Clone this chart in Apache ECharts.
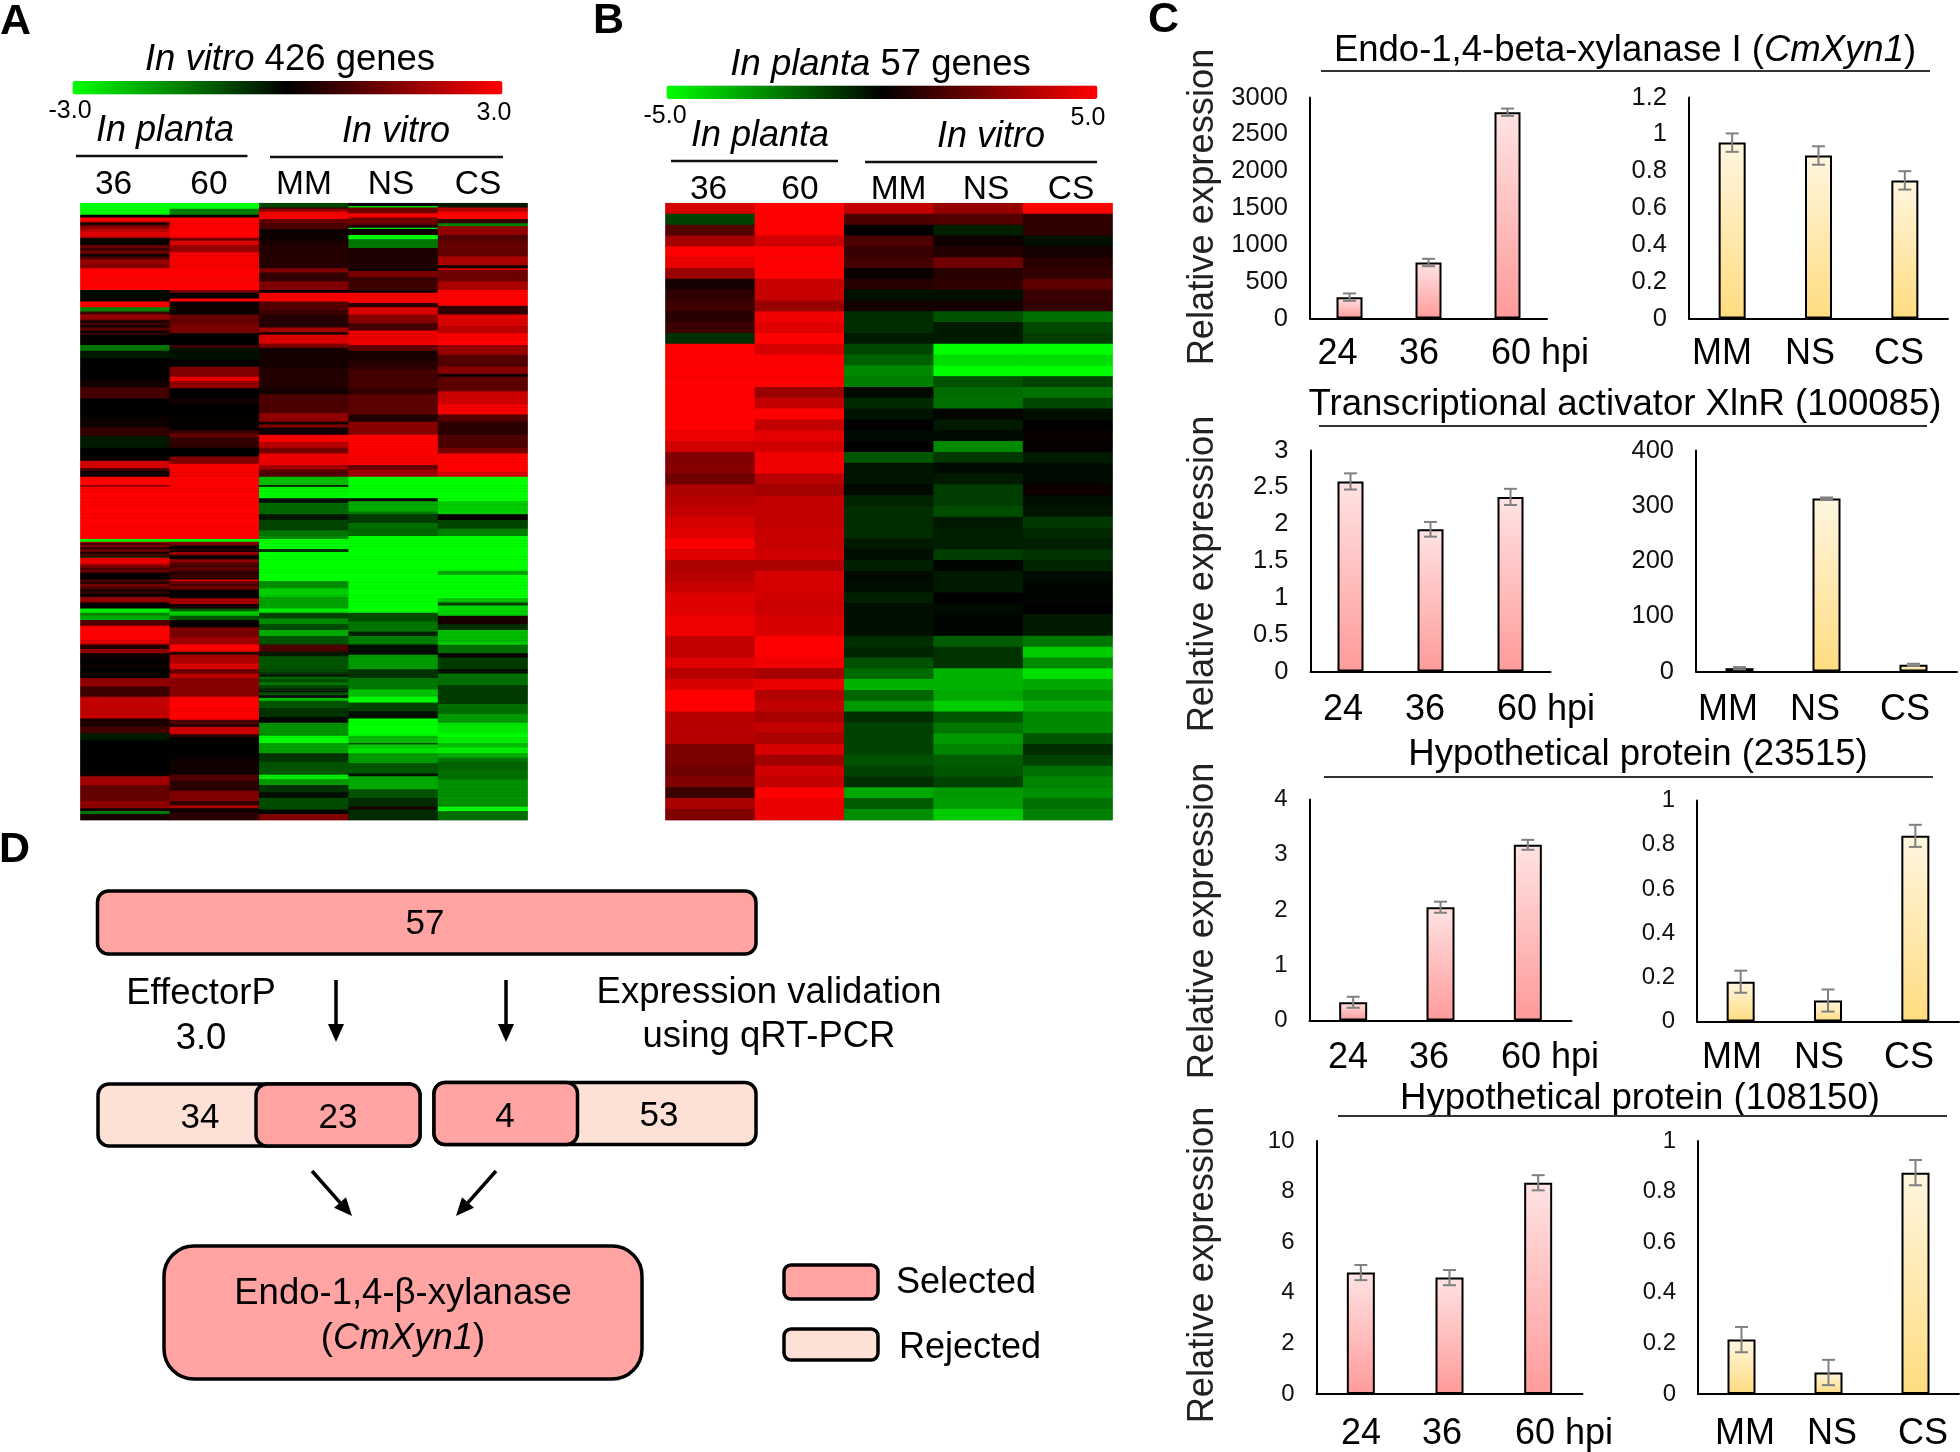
<!DOCTYPE html>
<html>
<head>
<meta charset="utf-8">
<style>html,body{margin:0;padding:0;background:#fff}#c{width:1960px;height:1452px}</style>
<script src="https://cdn.jsdelivr.net/npm/echarts@6/dist/echarts.min.js"></script>
</head>
<body>
<div id="c"></div>
<script>
// ---------- Panel A heat map: runs of [last row, log-ratio] read per column ----------
const heatColumns = ['36', '60', 'MM', 'NS', 'CS'];
const aRows = 426;
const a36 = [[8,-3],[10,0],[13,3],[14,.9],[15,.2],[16,1.2],[18,1.7],[20,2.2],[24,2.6],[29,.1],[31,1.2],[33,.7],[35,1.3],[37,.2],[39,.9],[42,1.8],[45,1.6],[60,3],[68,-.1],[72,2.9],[75,-1.6],[77,.7],[80,1.8],[81,1.4],[83,.4],[84,.9],[86,.3],[88,1.1],[90,.2],[91,.8],[98,.05],[102,-1.4],[107,-.3],[122,0],[127,.2],[135,.8],[148,0],[155,.15],[161,.6],[169,-.3],[175,0],[178,.1],[183,2.5],[185,.9],[189,.2],[195,3],[196,1.5],[232,3],[234,-3],[235,1.9],[236,.6],[238,1.5],[239,.2],[241,1.2],[242,.2],[244,.9],[245,-.5],[249,2.8],[250,2],[252,1.5],[254,.9],[255,1.6],[256,.3],[260,.05],[262,.9],[263,.2],[265,1.4],[267,.9],[268,.1],[270,.6],[272,.05],[276,1.7],[280,0],[283,-2.8],[285,-1.6],[288,-2],[292,1],[302,3],[305,2.6],[308,.4],[311,1.7],[314,.2],[319,.02],[321,.2],[328,0],[334,1.7],[341,.7],[356,2.3],[358,.3],[362,.4],[366,.8],[371,-.3],[392,0],[396,.1],[402,1.9],[413,1.2],[418,1.7],[420,.3],[422,-1.4],[426,.3]];
const a60 = [[4,-3],[8,-1.5],[10,0],[24,3],[26,1.4],[29,2.6],[34,1.8],[45,2.9],[60,3],[62,1.5],[66,0],[68,3],[75,.15],[77,.1],[83,1.2],[90,1.4],[98,0],[100,.8],[108,-.2],[113,0],[120,1.5],[123,2.8],[128,1.7],[135,0],[139,.2],[148,0],[157,.05],[159,.6],[162,1.2],[169,.6],[175,0],[180,1.5],[190,2.9],[232,3],[234,-3],[236,1.6],[237,.8],[239,.1],[240,.6],[241,.2],[243,1.8],[244,.6],[246,0],[248,1.7],[250,1.1],[252,.8],[254,1.2],[257,.5],[259,.7],[260,.3],[261,2.6],[263,1.3],[265,.9],[267,1.4],[270,.1],[273,0],[277,1.9],[280,.3],[282,-1],[285,-2.4],[288,-1],[293,.1],[300,1.4],[305,1.9],[310,3],[312,.5],[318,2],[322,2.6],[325,1.2],[328,2.2],[341,1.6],[350,3],[357,3],[360,.9],[362,.5],[367,2.4],[369,.6],[384,.02],[395,.2],[399,1],[406,.5],[413,1.5],[416,.6],[418,2],[421,.2],[426,.5]];
const aMM = [[3,-.8],[4,.6],[6,1.7],[11,2.9],[14,1.2],[18,.9],[25,.15],[29,.3],[45,.45],[48,1.5],[54,.6],[60,1.5],[62,.1],[68,2.9],[74,1],[77,.7],[86,.45],[89,1.9],[91,.4],[97,2.6],[100,1.5],[114,.25],[128,.4],[132,.25],[145,.9],[151,1.7],[153,.2],[155,1.5],[160,.2],[165,2.9],[169,2.2],[173,1.4],[181,2.8],[184,1.9],[189,1],[195,-2.2],[196,.1],[204,-2.9],[207,-.2],[215,-1.2],[219,-.3],[226,-.8],[230,-1.4],[232,-1.6],[239,-3],[241,-.6],[261,-3],[266,-1.7],[272,-2.4],[280,-1.9],[283,-2.8],[287,-.8],[291,-1.6],[295,-.9],[299,-2],[305,-1],[310,.9],[313,-.3],[322,-1],[324,-.9],[326,-.6],[327,-.1],[329,-1.2],[331,-.9],[333,-1.4],[335,-.8],[337,-.5],[338,-.1],[340,-1],[342,-.2],[343,-2.8],[344,-1.9],[349,-1],[355,-.6],[359,-.1],[368,-1.7],[373,-3],[380,-1.9],[386,-.6],[395,-1],[398,-2.8],[402,-1.8],[407,-.6],[411,-.2],[419,-.9],[422,-.1],[426,1.5]];
const aNS = [[2,.1],[3,-2.6],[7,1.3],[10,2.9],[15,1.3],[17,.4],[18,-2.8],[22,.2],[25,-3],[31,-1.4],[45,.35],[47,.1],[51,1.4],[60,.7],[62,.3],[69,2.9],[72,.5],[77,2.6],[83,1.6],[88,.8],[98,2.8],[102,1.2],[109,.3],[115,.5],[128,.8],[132,.6],[146,1.1],[151,.4],[160,1.6],[173,3],[181,2.9],[184,1.2],[189,1.9],[204,-3],[206,-.2],[213,-2],[215,-1.4],[221,-.7],[225,-1.3],[230,-1.2],[283,-3],[289,-.9],[296,-1.4],[299,-.4],[305,-1.5],[312,-.15],[322,-1.8],[328,-.6],[336,-1.4],[341,-2.3],[345,-3],[351,-.8],[356,-.2],[368,-3],[373,-2.2],[374,-.9],[377,-2.4],[380,-2.7],[387,-1.8],[394,-1],[396,-.2],[405,-2],[411,-1],[417,-.5],[419,.3],[426,-.5]];
const aCS = [[3,-.3],[6,2.2],[11,3],[14,.6],[16,-1.5],[22,1.7],[26,1],[37,1.2],[43,2],[45,.2],[46,2.8],[54,1.3],[60,2],[71,3],[77,.6],[85,2.6],[90,2.2],[98,3],[105,1.8],[113,1],[118,1.6],[120,.2],[130,1.1],[139,2.4],[146,2.9],[151,1],[160,.5],[169,.9],[173,1.4],[186,3],[189,2.5],[206,-3],[215,-2.4],[219,.05],[225,-.8],[230,-1.5],[254,-3],[257,-2],[273,-3],[276,-2.3],[278,-.7],[285,-2.5],[291,.3],[295,-.6],[304,-2.2],[305,-2.8],[311,-1.3],[314,.1],[322,-.7],[323,-.1],[325,-.2],[333,-1.3],[346,-.7],[353,-1.3],[359,-1.8],[366,-2.7],[369,-3],[373,-2.8],[376,-2.2],[380,-2.8],[383,-2],[386,-1.4],[392,-1.2],[398,-1.3],[417,-1.7],[420,-3],[426,-1.3]];

// ---------- Panel B heat map: one row per gene [36, 60, MM, NS, CS] ----------
const bGenes = [
[4.2,5,3.8,2.9,5],[-1.3,5,1.5,1.6,.9],[1.6,5,0,-.6,.9],[3.2,4.1,1.5,.3,-.3],[5,5,1.1,.7,.4],
[4.6,5,1.3,2.2,.8],[3,5,.2,.8,1],[.4,3.9,.8,.9,1.8],[.9,3.9,-.3,-.3,1.1],[1.2,3,.4,.4,1],
[.8,4.7,-.9,-1.6,-2.2],[1.2,4.4,-.9,-.5,-1.4],[-.9,5,-.5,-.5,-1.2],[5,4.2,-1.4,-5,-5],[5,5,-1.9,-4.4,-4.4],
[5,5,-2.7,-5,-5],[5,5,-2.5,-1.6,-1.3],[5,3,-.2,-2.1,-2.2],[5,3.8,-.8,-2.2,-1.4],[5,5,-.4,-.1,-.3],
[5,3.8,0,-.5,0],[4.7,4.5,-.2,-.2,.2],[4.1,4.1,0,-2.7,.1],[2.5,4.7,-1.7,-1.1,-.5],[2.7,4.7,-.4,-.2,-.2],
[2.2,3.6,-.4,-.5,-.2],[3.4,3.2,-.2,-1.2,.3],[3.6,3.8,-.7,-1.2,-.3],[3.8,3.8,-.9,-1.5,-.4],[4.2,3.8,-.9,-.5,-1.1],
[4.4,3.9,-.9,-.6,-.8],[4.9,3.9,-.5,-.6,-.6],[4.4,4.1,-.3,-1.2,-1],[3.4,3.4,-.6,-.1,-.7],[3.6,4.2,-.2,-.5,-.2],
[3.9,4.2,-.3,-.5,-.1],[4.4,4.1,-.6,0,-.1],[4.4,4,-.3,-.2,0],[4.7,4.3,-.3,-.1,-.5],[4.7,4.3,-.3,-.1,-.5],
[3.8,5,-.9,-1.8,-2.3],[3.8,5,-.7,-1,-4],[4.4,4.7,-1.6,-1,-2.7],[3.6,3.3,-2.1,-3.5,-4.4],[4.3,4.6,-3.5,-3.5,-3.3],
[5,3.5,-2,-3.3,-2.8],[5,3.8,-3,-4,-3.4],[3.6,3.3,-.9,-1.7,-2.7],[3.6,3.8,-1.3,-2.3,-2.7],[3.6,3.4,-1.3,-3,-1.7],
[2.4,4.2,-1.3,-2.6,-.9],[2.4,3.2,-1.6,-1.8,-1.3],[2.2,4.1,-1.3,-1.7,-2.2],[2.5,3.8,-.9,-1.3,-2.6],[1.2,5,-3.3,-3,-2.8],
[3.3,4.6,-1.8,-3.1,-2.2],[2.5,4.6,-2.8,-4,-2.5]];

// ---------- Panel C bar values and error bars ----------
const hourLabels = ['24', '36', '60 hpi'];
const mediaLabels = ['MM', 'NS', 'CS'];
const xyn1Hours = [290, 760, 2800];       const xyn1HoursErr = [50, 50, 50];
const xyn1Media = [0.955, 0.885, 0.75];   const xyn1MediaErr = [0.05, 0.05, 0.05];
const xlnrHours = [2.58, 1.93, 2.37];     const xlnrHoursErr = [0.11, 0.1, 0.11];
const xlnrMedia = [6, 313, 12];           const xlnrMediaErr = [2, 2, 2];
const h23515Hours = [0.33, 2.05, 3.18];   const h23515HoursErr = [0.1, 0.1, 0.09];
const h23515Media = [0.18, 0.095, 0.84];  const h23515MediaErr = [0.05, 0.05, 0.05];
const h108150Hours = [4.8, 4.6, 8.35];    const h108150HoursErr = [0.3, 0.3, 0.3];
const h108150Media = [0.215, 0.085, 0.875];const h108150MediaErr = [0.05, 0.05, 0.05];

// ---------- Layout ----------
const FONT = '"Liberation Sans", Arial, sans-serif';
const heatColors = ['#00ff00', '#000000', '#ff0000'];
const pinkGrad = ['#ffe3e3', '#ff9a9a'];
const yellowGrad = ['#fff6e0', '#ffdc80'];
const barPanels = [
  {v:xyn1Hours, e:xyn1HoursErr, cats:hourLabels, max:3000, step:500, left:1310, top:97.5, w:237, h:221, bar:26, grad:pinkGrad, fs:25.5, lx:[1337.5,1419,1540], ly:352},
  {v:xyn1Media, e:xyn1MediaErr, cats:mediaLabels, max:1.2, step:0.2, left:1689, top:97.5, w:259, h:221, bar:27, grad:yellowGrad, fs:25.5, lx:[1722,1810,1899], ly:352},
  {v:xlnrHours, e:xlnrHoursErr, cats:hourLabels, max:3, step:0.5, left:1310.5, top:450.5, w:240, h:221, bar:26, grad:pinkGrad, fs:25.5, lx:[1343,1425,1546], ly:708},
  {v:xlnrMedia, e:xlnrMediaErr, cats:mediaLabels, max:400, step:100, left:1696, top:450.5, w:261, h:221, bar:28, grad:yellowGrad, fs:25.5, lx:[1728,1815,1905], ly:708},
  {v:h23515Hours, e:h23515HoursErr, cats:hourLabels, max:4, step:1, left:1309.5, top:799.5, w:262, h:221, bar:28, grad:pinkGrad, fs:24, lx:[1348,1429,1550], ly:1056},
  {v:h23515Media, e:h23515MediaErr, cats:mediaLabels, max:1, step:0.2, left:1697, top:800.5, w:262, h:221, bar:28, grad:yellowGrad, fs:24, lx:[1732,1819,1909], ly:1056},
  {v:h108150Hours, e:h108150HoursErr, cats:hourLabels, max:10, step:2, left:1316.5, top:1141, w:266, h:253, bar:28, grad:pinkGrad, fs:24, lx:[1361,1442,1564], ly:1432},
  {v:h108150Media, e:h108150MediaErr, cats:mediaLabels, max:1, step:0.2, left:1698, top:1141, w:261, h:253, bar:28, grad:yellowGrad, fs:24, lx:[1745,1832,1923], ly:1432}
];

function expandRuns(runs, total) {
  const out = []; let r = 0, last = 0;
  runs.forEach(([end, v]) => { while (r < end && r < total) { out.push(v); r++; } last = v; });
  while (r < total) { out.push(last); r++; }
  return out;
}
const aCols = [a36, a60, aMM, aNS, aCS].map(c => expandRuns(c, aRows));
const aData = [];
aCols.forEach((col, x) => col.forEach((v, y) => aData.push([x, y, v])));
const bData = [];
bGenes.forEach((row, y) => row.forEach((v, x) => bData.push([x, y, v])));
const idx = n => Array.from({length:n}, (_, i) => String(i));

const grids = [], xAxes = [], yAxes = [], series = [];
function heatGrid(left, top, w, h, rows, data) {
  const i = grids.length;
  grids.push({left, top, width:w, height:h, show:true, backgroundColor:'#000', borderColor:'#b5b5b5', borderWidth:1, containLabel:false});
  xAxes.push({type:'category', gridIndex:i, data:heatColumns, show:false});
  yAxes.push({type:'category', gridIndex:i, data:idx(rows), inverse:true, show:false});
  series.push({type:'heatmap', xAxisIndex:i, yAxisIndex:i, data, progressive:0, animation:false, emphasis:{disabled:true}});
}
heatGrid(80.5, 203.3, 447, 616.7, aRows, aData);
heatGrid(665.5, 203.3, 447, 616.7, bGenes.length, bData);

barPanels.forEach(p => {
  const i = grids.length;
  grids.push({left:p.left, top:p.top, width:p.w, height:p.h, containLabel:false});
  xAxes.push({type:'category', gridIndex:i, data:p.cats, axisTick:{show:false}, axisLabel:{show:false},
    axisLine:{lineStyle:{color:'#000', width:2}}});
  yAxes.push({type:'value', gridIndex:i, min:0, max:p.max, interval:p.step, splitLine:{show:false}, axisTick:{show:false},
    axisLine:{show:true, lineStyle:{color:'#000', width:2}},
    axisLabel:{fontFamily:FONT, fontSize:p.fs, color:'#111', margin:22, padding:[4,0,0,0], hideOverlap:false, showMinLabel:true, showMaxLabel:true, formatter:v => String(v)}});
  series.push({type:'bar', xAxisIndex:i, yAxisIndex:i, data:p.v, barWidth:p.bar, animation:false,
    itemStyle:{borderColor:'#000', borderWidth:2,
      color:{type:'linear', x:0, y:0, x2:0, y2:1, colorStops:[{offset:0,color:p.grad[0]},{offset:1,color:p.grad[1]}]}},
    emphasis:{disabled:true}});
  series.push({type:'custom', xAxisIndex:i, yAxisIndex:i, animation:false, clip:false, z:5, silent:true,
    data:p.v.map((v, k) => [k, v - p.e[k], v + p.e[k]]),
    encode:{x:0, y:[1,2]},
    renderItem(params, api) {
      const lo = api.coord([api.value(0), api.value(1)]);
      const hi = api.coord([api.value(0), api.value(2)]);
      const style = {stroke:'#808080', lineWidth:2, fill:null};
      const cap = 6.5;
      return {type:'group', children:[
        {type:'line', shape:{x1:lo[0], y1:lo[1], x2:hi[0], y2:hi[1]}, style},
        {type:'line', shape:{x1:lo[0]-cap, y1:lo[1], x2:lo[0]+cap, y2:lo[1]}, style},
        {type:'line', shape:{x1:hi[0]-cap, y1:hi[1], x2:hi[0]+cap, y2:hi[1]}, style}
      ]};
    }});
});

// ---------- Text, rules and the flow diagram ----------
const g = [];
const TEXT_DROP = 2.5;
function T(text, x, y, size, o = {}) {
  const st = {text, x:0, y:0, fontFamily:FONT, fontSize:size, fill:o.color || '#000', align:o.align || 'center',
    verticalAlign:'middle', fontStyle:o.italic ? 'italic' : 'normal', fontWeight:o.bold ? 'bold' : 'normal'};
  if (o.rich) st.rich = {i:{fontStyle:'italic', fontFamily:FONT, fontSize:size, fill:'#000'}, n:{fontFamily:FONT, fontSize:size, fill:'#000'}};
  const px = o.rot ? x + TEXT_DROP : x, py = o.rot ? y : y + TEXT_DROP;
  g.push({type:'text', x:px, y:py, rotation:o.rot || 0, style:st, z:20, silent:true});
}
function L(x1, y1, x2, y2, w = 2, c = '#111') {
  g.push({type:'line', shape:{x1, y1, x2, y2}, style:{stroke:c, lineWidth:w}, z:20, silent:true});
}
function R(x, y, w, h, r, fill, z = 10) {
  g.push({type:'rect', shape:{x, y, width:w, height:h, r}, style:{fill, stroke:'#000', lineWidth:3.5}, z, silent:true});
}
function Arrow(x1, y1, x2, y2) {
  const a = Math.atan2(y2 - y1, x2 - x1), s = 18, t = 8;
  const bx = x2 - s * Math.cos(a), by = y2 - s * Math.sin(a);
  L(x1, y1, bx, by, 3.5, '#000');
  g.push({type:'polygon', shape:{points:[[x2, y2], [bx + t * Math.sin(a), by - t * Math.cos(a)], [bx - t * Math.sin(a), by + t * Math.cos(a)]]},
    style:{fill:'#000'}, z:20, silent:true});
}
// panel letters
T('A', 0, 20, 43, {bold:true, align:'left'});
T('B', 593, 19, 43, {bold:true, align:'left'});
T('C', 1148, 18, 43, {bold:true, align:'left'});
T('D', -1, 848, 43, {bold:true, align:'left'});

function heatHeader(titleText, titleX, titleY, loText, loX, hiText, hiX, dy, lines, labelsX) {
  T(titleText, titleX, titleY, 36.5, {rich:true});
  T(loText, loX, 109 + dy, 25);
  T(hiText, hiX, 111 + dy, 25);
  T('In planta', lines[0] + 89, 128 + dy, 36, {italic:true});
  T('In vitro', lines[2] + 126, 129 + dy, 36, {italic:true});
  L(lines[0], 156 + dy, lines[1], 156 + dy, 2.5);
  L(lines[2], 157 + dy, lines[3], 157 + dy, 2.5);
  heatColumns.forEach((c, i) => T(c, labelsX[i], 182 + dy, 33.5));
}
heatHeader('{i|In vitro}{n| 426 genes}', 290, 57, '-3.0', 70, '3.0', 494, 0, [76, 247.5, 270, 503], [113.6, 209, 304, 391, 478]);
heatHeader('{i|In planta}{n| 57 genes}', 880.5, 62, '-5.0', 665, '5.0', 1088, 5, [671, 838, 865, 1097], [708.6, 800, 898.6, 986, 1071]);

// panel C titles and rules
T('{n|Endo-1,4-beta-xylanase I (}{i|CmXyn1}{n|)}', 1625, 48, 36.5, {rich:true});
L(1321, 71, 1930, 71, 2, '#333');
T('Transcriptional activator XlnR (100085)', 1625, 402, 36.6);
L(1319, 426, 1927, 426, 2, '#333');
T('Hypothetical protein (23515)', 1638, 752, 36.6);
L(1324, 777, 1933, 777, 2, '#333');
T('Hypothetical protein (108150)', 1640, 1096, 36.6);
L(1338, 1116, 1947, 1116, 2, '#333');
[207, 574, 921, 1265].forEach(y => T('Relative expression', 1200, y, 36.3, {rot:Math.PI / 2, color:'#222'}));
barPanels.forEach(p => p.cats.forEach((c, i) => T(c, p.lx[i], p.ly, 36)));

// panel D flow
const pink = '#ffa3a3', peach = '#fde0d6';
R(97.5, 891, 658.5, 63, 11, pink);
T('57', 425, 922, 35);
T('EffectorP', 201, 991, 36.5);
T('3.0', 201, 1036, 36.5);
T('Expression validation', 769, 990, 36.5);
T('using qRT-PCR', 769, 1034, 36.5);
Arrow(336, 980, 336, 1042);
Arrow(506, 980, 506, 1042);
R(98, 1084, 322, 62, 11, peach);
R(256, 1084, 164, 62, 11, pink, 11);
T('34', 200, 1116, 35);
T('23', 338, 1116, 35);
R(434, 1082.5, 322, 62, 11, peach);
R(434, 1082.5, 143.5, 62, 11, pink, 11);
T('4', 505, 1115, 35);
T('53', 659, 1114, 35);
Arrow(312, 1171, 352, 1216);
Arrow(496, 1171, 456, 1216);
R(164, 1246, 478, 133, 30, pink);
T('Endo-1,4-β-xylanase', 403, 1291, 36.5);
T('{n|(}{i|CmXyn1}{n|)}', 403, 1336, 36.5, {rich:true});
R(784, 1265, 94, 34, 7, pink);
T('Selected', 896, 1281, 36, {align:'left'});
R(784, 1329, 94, 31, 7, peach);
T('Rejected', 899, 1346, 36, {align:'left'});

const chart = echarts.init(document.getElementById('c'), null, {renderer:'canvas'});
chart.setOption({
  animation:false, backgroundColor:'#fff', tooltip:{show:false},
  grid:grids, xAxis:xAxes, yAxis:yAxes, series,
  visualMap:[
    {type:'continuous', seriesIndex:0, min:-3, max:3, orient:'horizontal', left:72.5, top:81, itemWidth:13.5, itemHeight:430,
     inRange:{color:heatColors}, calculable:false, text:null, showLabel:false, hoverLink:false, padding:0, realtime:false, formatter:()=>''},
    {type:'continuous', seriesIndex:1, min:-5, max:5, orient:'horizontal', left:666.5, top:85.5, itemWidth:13.5, itemHeight:431,
     inRange:{color:heatColors}, calculable:false, text:null, showLabel:false, hoverLink:false, padding:0, realtime:false, formatter:()=>''}
  ],
  graphic:{elements:g}
});
</script>
</body>
</html>
